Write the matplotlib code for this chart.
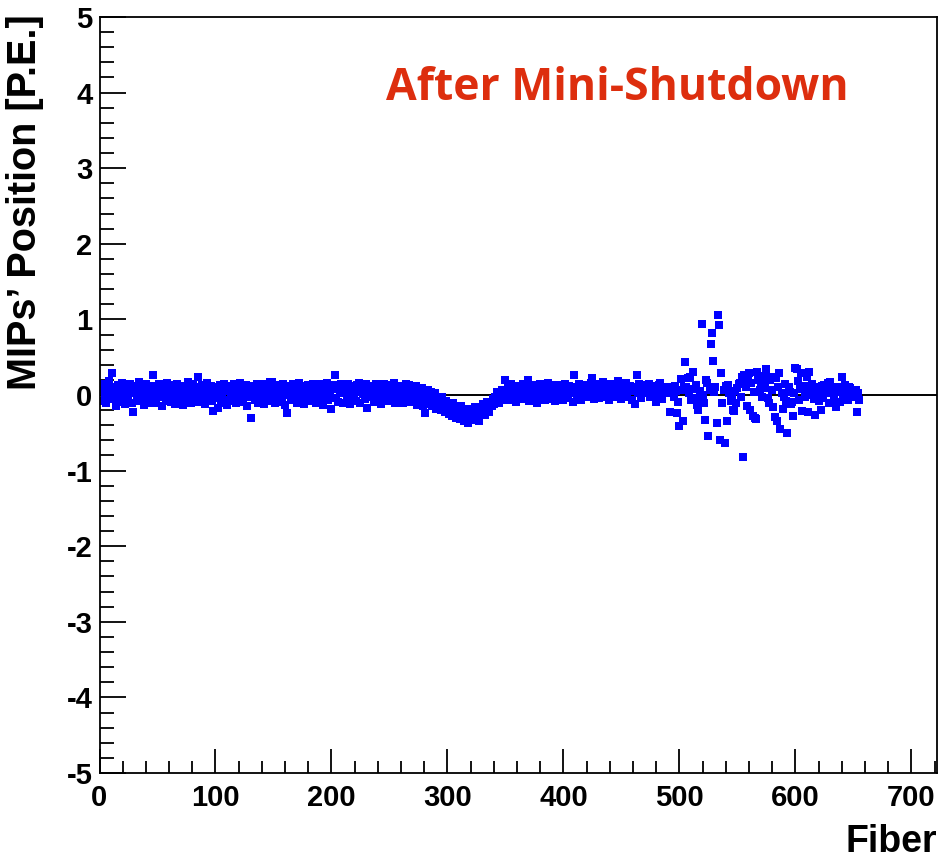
import matplotlib
matplotlib.use("Agg")
import matplotlib.pyplot as plt
from matplotlib.ticker import MultipleLocator

plt.rcParams["axes.unicode_minus"] = False

# MIP position per fiber (fibers 1..655)
mip_pos = [
    0.05, 0.12, -0.08, 0.15, 0.02, -0.11, 0.08, 0.18, -0.03, 0.06,
    0.29, -0.05, 0.1, -0.14, 0.04, 0.13, -0.09, 0.0, 0.16, -0.06,
    0.07, -0.12, 0.11, 0.02, -0.07, 0.14, 0.03, -0.1, -0.22, 0.08,
    0.12, -0.04, 0.05, 0.17, -0.08, 0.01, 0.1, -0.13, 0.06, 0.15,
    -0.02, 0.09, -0.1, 0.04, 0.12, 0.26, -0.06, 0.08, -0.11, 0.03,
    0.14, -0.03, 0.07, -0.15, 0.1, 0.02, -0.08, 0.16, 0.05, -0.05,
    0.11, -0.09, 0.13, 0.0, -0.12, 0.08, 0.15, -0.04, 0.06, -0.1,
    0.09, -0.13, 0.12, 0.03, -0.07, 0.17, -0.02, 0.1, -0.11, 0.05,
    0.14, -0.06, 0.02, 0.11, 0.24, -0.09, 0.07, 0.13, -0.03, 0.04,
    -0.12, 0.09, 0.16, -0.05, 0.01, 0.12, -0.08, -0.21, 0.06, 0.1,
    -0.04, -0.17, 0.08, 0.13, -0.1, 0.03, 0.15, -0.06, 0.09, -0.13,
    0.05, 0.12, -0.02, 0.1, -0.08, 0.14, 0.0, -0.11, 0.07, 0.04,
    0.16, -0.05, 0.11, -0.09, 0.02, 0.13, -0.14, 0.08, -0.03, 0.1,
    -0.31, 0.06, 0.12, -0.07, 0.03, 0.15, -0.1, 0.09, -0.04, 0.11,
    0.01, -0.12, 0.14, 0.06, -0.08, 0.1, 0.17, -0.02, 0.17, 0.04,
    -0.11, 0.08, 0.13, -0.05, 0.02, 0.11, -0.09, 0.15, 0.0, -0.13,
    0.07, -0.24, 0.12, 0.04, -0.07, 0.1, 0.14, -0.03, 0.06, -0.1,
    0.09, 0.16, -0.06, 0.03, 0.12, -0.12, 0.08, 0.01, -0.04, 0.13,
    0.1, -0.08, 0.05, 0.15, -0.02, 0.11, -0.1, 0.07, 0.14, -0.05,
    0.02, 0.12, -0.13, 0.09, 0.04, 0.16, -0.07, 0.1, 0.0, -0.19,
    0.08, 0.13, 0.26, -0.04, 0.11, -0.09, 0.06, 0.14, 0.02, -0.11,
    0.1, 0.05, -0.06, 0.15, 0.03, -0.12, 0.09, 0.12, -0.02, 0.07,
    -0.08, 0.13, 0.04, 0.16, -0.1, 0.08, 0.01, 0.11, -0.05, 0.14,
    -0.17, 0.06, 0.1, -0.03, 0.12, 0.02, -0.09, 0.15, 0.07, -0.06,
    0.11, 0.04, -0.12, 0.09, 0.14, -0.02, 0.06, 0.1, -0.08, 0.03,
    0.13, -0.05, 0.08, 0.16, -0.1, 0.05, 0.11, 0.0, -0.07, 0.12,
    0.04, -0.11, 0.09, 0.15, -0.03, 0.07, 0.13, -0.09, 0.02, 0.1,
    -0.06, 0.08, 0.12, -0.13, 0.05, 0.01, -0.08, 0.09, -0.15, 0.03,
    -0.24, -0.05, 0.06, -0.12, -0.02, 0.04, -0.15, -0.08, 0.02, -0.18,
    -0.06, -0.14, -0.1, -0.2, -0.03, -0.16, -0.12, -0.22, -0.08, -0.18,
    -0.25, -0.14, -0.2, -0.28, -0.1, -0.24, -0.3, -0.18, -0.26, -0.21,
    -0.32, -0.15, -0.27, -0.34, -0.22, -0.29, -0.19, -0.37, -0.25, -0.31,
    -0.2, -0.33, -0.28, -0.16, -0.3, -0.24, -0.35, -0.18, -0.27, -0.22,
    -0.12, -0.26, -0.2, -0.09, -0.17, -0.23, -0.1, -0.14, -0.05, -0.12,
    -0.02, -0.08, 0.04, -0.1, 0.02, -0.05, 0.07, 0.0, -0.07, 0.2,
    0.05, 0.11, -0.03, 0.08, 0.14, -0.06, 0.03, 0.1, -0.09, 0.06,
    0.12, 0.0, -0.05, 0.09, 0.15, -0.02, 0.07, 0.04, 0.2, -0.08,
    0.1, 0.02, 0.13, -0.04, 0.06, 0.11, -0.1, 0.08, 0.03, 0.14,
    -0.03, 0.09, 0.05, -0.07, 0.12, 0.01, 0.16, -0.05, 0.07, 0.1,
    0.0, 0.13, -0.08, 0.06, 0.13, 0.03, -0.02, 0.11, 0.08, -0.06,
    0.14, 0.04, 0.09, -0.04, 0.12, 0.02, 0.07, -0.09, 0.26, 0.05,
    0.1, -0.01, 0.15, 0.06, -0.06, 0.11, 0.03, 0.13, -0.03, 0.08,
    0.12, 0.0, 0.09, 0.16, 0.22, -0.05, 0.07, 0.14, 0.02, 0.1,
    -0.04, 0.12, 0.06, 0.17, -0.02, 0.09, 0.13, 0.04, -0.07, 0.11,
    0.15, 0.03, 0.08, -0.03, 0.12, 0.06, 0.18, 0.01, 0.1, -0.05,
    0.13, 0.07, 0.04, 0.16, -0.02, 0.09, 0.12, 0.05, -0.06, 0.11,
    0.08, -0.12, 0.26, 0.03, 0.14, 0.06, -0.04, 0.1, 0.13, 0.11,
    0.02, 0.08, 0.05, 0.15, -0.03, 0.12, 0.07, 0.0, 0.1, -0.09,
    0.06, 0.13, 0.16, 0.04, -0.05, 0.07, 0.11, 0.02, 0.09, 0.04,
    0.07, -0.22, 0.1, 0.02, -0.03, 0.12, 0.05, -0.24, -0.09, -0.41,
    0.21, 0.07, -0.34, 0.1, 0.44, 0.11, 0.23, 0.02, 0.24, -0.06,
    0.08, 0.31, -0.04, 0.13, -0.13, -0.2, -0.09, 0.05, 0.94, 0.0,
    -0.1, -0.33, 0.2, 0.16, -0.54, 0.07, 0.67, 0.82, 0.45, 0.04,
    0.11, -0.37, 1.06, 0.93, -0.6, 0.29, -0.11, 0.07, -0.64, 0.12,
    -0.34, 0.13, 0.02, -0.08, -0.04, -0.2, -0.21, 0.05, -0.1, 0.09,
    0.14, 0.16, -0.03, 0.24, -0.82, 0.26, 0.1, -0.15, 0.2, 0.29,
    -0.2, 0.16, -0.28, 0.04, -0.3, -0.32, 0.31, 0.2, 0.07, 0.12,
    -0.02, 0.25, 0.18, 0.09, 0.34, -0.04, -0.11, 0.2, 0.24, 0.06,
    -0.16, -0.29, 0.22, -0.35, 0.1, 0.29, -0.45, 0.03, -0.19, -0.03,
    0.15, -0.08, -0.5, 0.11, 0.04, -0.12, -0.09, -0.28, 0.02, 0.36,
    0.34, 0.19, -0.06, 0.08, 0.29, -0.21, 0.12, -0.02, 0.06, 0.24,
    -0.22, 0.31, 0.0, 0.14, 0.07, -0.05, -0.26, 0.1, 0.03, -0.08,
    0.05, -0.2, 0.12, -0.04, 0.13, 0.02, 0.09, 0.16, -0.1, 0.17,
    0.07, -0.11, 0.0, 0.06, -0.16, 0.11, 0.04, -0.09, 0.08, 0.24,
    -0.04, 0.02, 0.13, 0.05, -0.06, 0.1, 0.09, -0.02, 0.07, 0.0,
    -0.02, 0.06, -0.22, 0.03, -0.07,
]
fibers = list(range(1, len(mip_pos) + 1))

x_range = (0, 722)
y_range = (-5, 5)
title_text = "After Mini-Shutdown"
x_label = "Fiber"
y_label = "MIPs\u2019 Position [P.E.]"

W, H = 939, 861
fig = plt.figure(figsize=(W / 100, H / 100), dpi=100)
ax = fig.add_axes([99.5 / W, 1 - 773 / H, (937 - 99.5) / W, (773 - 17) / H])

font = "Liberation Sans"
ax.axhline(0, color="black", lw=1.4, zorder=1)
ax.plot(fibers, mip_pos, ls="none", marker="s", ms=5.4, mew=0,
        color="#0000ff", zorder=2)

ax.set_xlim(*x_range)
ax.set_ylim(*y_range)
ax.xaxis.set_major_locator(MultipleLocator(100))
ax.xaxis.set_minor_locator(MultipleLocator(20))
ax.yaxis.set_major_locator(MultipleLocator(1))
ax.yaxis.set_minor_locator(MultipleLocator(0.2))
ax.tick_params(which="both", direction="in", top=False, right=False,
               width=1.3, color="black")
ax.tick_params(axis="x", which="major", length=17, pad=8)
ax.tick_params(axis="x", which="minor", length=9)
ax.tick_params(axis="y", which="major", length=19, pad=5)
ax.tick_params(axis="y", which="minor", length=10)
for lab in ax.get_xticklabels() + ax.get_yticklabels():
    lab.set_fontfamily(font)
    lab.set_fontweight("bold")
    lab.set_fontsize(21)
for s in ax.spines.values():
    s.set_linewidth(1.3)

fig.text(937 / W, 1 - 842 / H, x_label, ha="right", va="center",
         fontfamily=font, fontweight="bold", fontsize=27)
fig.text(25 / W, 1 - 14 / H, y_label, ha="center", va="top", rotation=90,
         fontfamily=font, fontweight="bold", fontsize=28.5)
ax.text((617 - 99.5) / 1.16, 4.06, title_text,
        ha="center", va="center", color="#DD2E0E",
        fontfamily="Open Sans", fontweight="bold", fontsize=32)

fig.savefig("out.png", dpi=100)
